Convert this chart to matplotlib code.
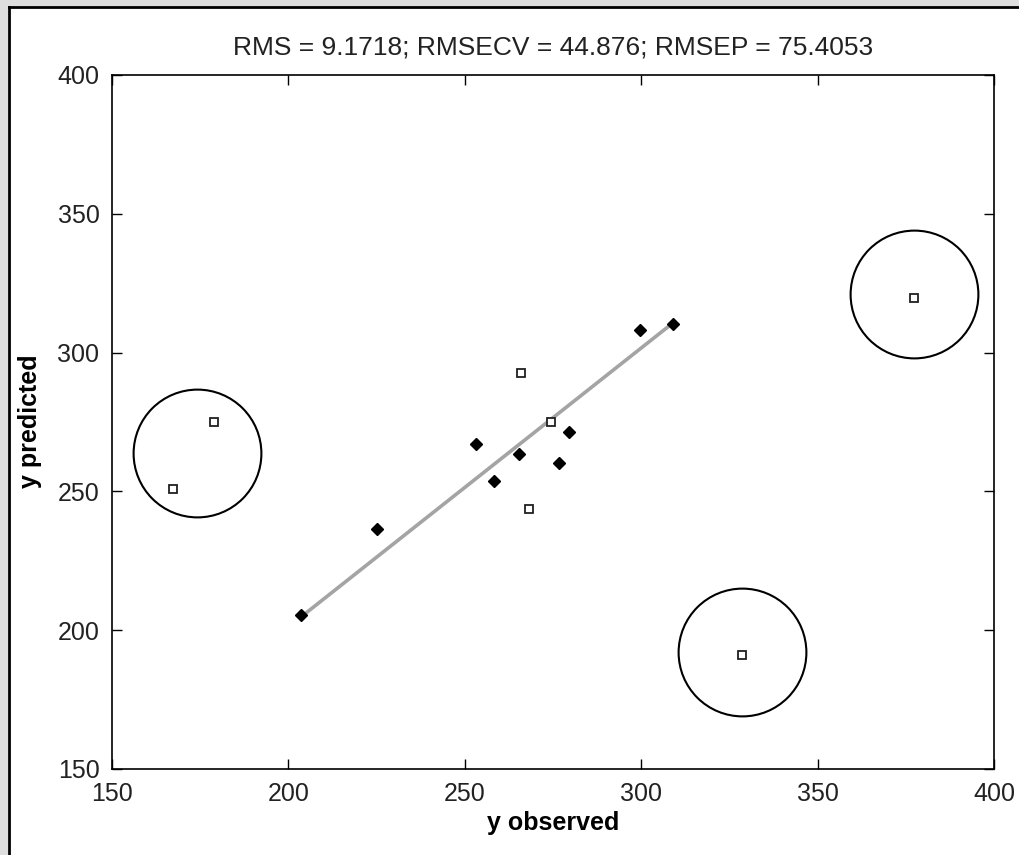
import matplotlib
matplotlib.use("Agg")
from matplotlib import pyplot as plt
from matplotlib.patches import Rectangle
from matplotlib.lines import Line2D

plt.rcParams['font.family'] = ['Liberation Sans', 'DejaVu Sans']

# calibration samples (filled diamonds)
cal_obs = [203.6, 225.0, 253.2, 258.3, 265.4, 276.7, 279.6, 299.7, 309.0]
cal_pred = [205.5, 236.4, 267.0, 253.7, 263.4, 260.3, 271.3, 308.1, 310.3]

# validation samples (open squares)
val_obs = [167.4, 178.9, 265.9, 268.2, 274.4, 328.6, 377.3]
val_pred = [250.9, 275.0, 292.5, 243.6, 274.9, 191.1, 319.7]

# fit line end points
fit_x = [203.6, 309.0]
fit_y = [204.8, 310.7]

# outlier circles (centres)
circ_x = [174.1, 328.6, 377.3]
circ_y = [263.8, 192.1, 321.1]

title = "RMS = 9.1718; RMSECV = 44.876; RMSEP = 75.4053"
ticks = [150, 200, 250, 300, 350, 400]

fig = plt.figure(figsize=(10.2, 8.55), dpi=100)

# grey window frame on top and left
fig.patches.append(Rectangle((0, 0), 8 / 1020, 1, transform=fig.transFigure,
                             facecolor='#dedede', edgecolor='none', zorder=-2))
fig.patches.append(Rectangle((0, 848 / 855), 1, 7 / 855, transform=fig.transFigure,
                             facecolor='#dedede', edgecolor='none', zorder=-2))
fig.lines.append(Line2D([9 / 1020, 9 / 1020], [0, 847.5 / 855], transform=fig.transFigure,
                        color='black', lw=2))
fig.lines.append(Line2D([9 / 1020, 1], [847.5 / 855, 847.5 / 855], transform=fig.transFigure,
                        color='black', lw=2))

ax = fig.add_axes([112 / 1020, 86 / 855, 882 / 1020, 694 / 855])

ax.plot(fit_x, fit_y, color='#a4a4a4', lw=2.6, solid_capstyle='butt', zorder=1)
ax.plot(cal_obs, cal_pred, linestyle='none', marker='D', markersize=6.3,
        color='black', zorder=3)
ax.plot(val_obs, val_pred, linestyle='none', marker='s', markersize=6,
        mfc='white', mec='#202020', mew=1.3, zorder=3)
ax.plot(circ_x, circ_y, linestyle='none', marker='o', markersize=92,
        mfc='none', mec='black', mew=1.5, zorder=2)

ax.set_xlim(150, 400)
ax.set_ylim(150, 400)
ax.set_xticks(ticks)
ax.set_yticks(ticks)
ax.tick_params(direction='in', length=7, width=1, labelsize=18, pad=9,
               top=True, right=True, colors='black', labelcolor='#222222')
for s in ax.spines.values():
    s.set_linewidth(1.2)

ax.set_title(title, fontsize=19, pad=15, color='#222222')
fig.text(553 / 1020, 1 - 823 / 855, "y observed", fontsize=18, fontweight='bold',
         ha='center', va='center')
fig.text(30 / 1020, 1 - 421 / 855, "y predicted", fontsize=18, fontweight='bold',
         ha='center', va='center', rotation=90)

fig.savefig("out.png", dpi=100, facecolor='white')
